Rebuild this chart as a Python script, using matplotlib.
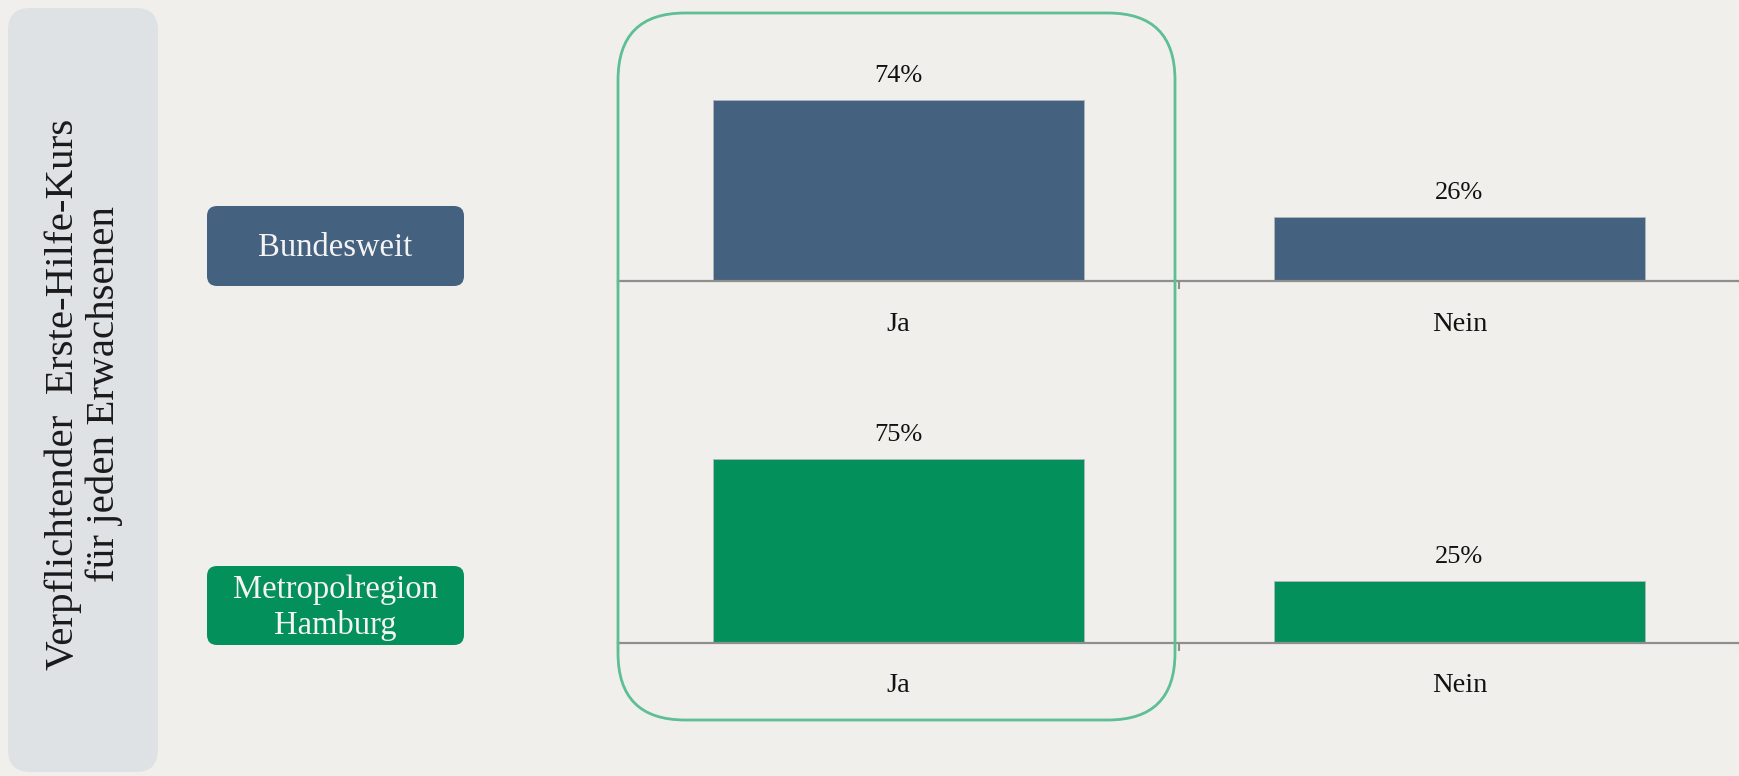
import matplotlib
matplotlib.use("Agg")
import matplotlib.pyplot as plt
from matplotlib.patches import FancyBboxPatch

# ---- data ----
categories = ["Ja", "Nein"]
bundesweit = [74, 26]
hamburg = [75, 25]
group_labels = ["Bundesweit", "Metropolregion\nHamburg"]
side_title = "Verpflichtender  Erste-Hilfe-Kurs\nfür jeden Erwachsenen"

# ---- style ----
BG = "#F0EFEB"
BLUE = "#44617F"
GREEN = "#03905A"
PANEL = "#DFE2E4"
OUTLINE = "#5DBF93"
AXIS = "#8E8E8E"
FONT = ["Liberation Serif", "DejaVu Serif"]

W, H = 1740, 776
fig = plt.figure(figsize=(W / 100, H / 100), dpi=100, facecolor=BG)


def px_box(x0, y0, x1, y1, r, **kw):
    """rounded box given in pixel coords (top-left origin) via inch transform"""
    p = FancyBboxPatch((x0 / 100, (H - y1) / 100), (x1 - x0) / 100, (y1 - y0) / 100,
                       boxstyle=f"round,pad=0,rounding_size={r / 100}",
                       transform=fig.dpi_scale_trans, **kw)
    fig.add_artist(p)
    return p


# left grey panel with rotated title
px_box(8, 8, 158, 772, 22, facecolor=PANEL, edgecolor="none", zorder=0)
fig.text(84 / W, 1 - 394 / H, side_title, rotation=90, ha="center", va="center",
         multialignment="center", fontsize=29.5, family=FONT, color="#1A1A1A",
         linespacing=1.12)

# group label boxes
label_boxes = [(207, 206, 464, 286, BLUE), (207, 566, 464, 645, GREEN)]
for (x0, y0, x1, y1, c), lab in zip(label_boxes, group_labels):
    px_box(x0, y0, x1, y1, 10, facecolor=c, edgecolor="none", zorder=1)
    fig.text((x0 + x1) / 2 / W, 1 - ((y0 + y1) / 2 + 2) / H, lab, ha="center", va="center",
             fontsize=23.5, family=FONT, color="#F4F4F4", linespacing=1.2)

# bar axes
ax_left = 618 / W
ax_w = 1122 / W
ax_h = 244.5 / H
axes_specs = [(1 - 281 / H, bundesweit, BLUE), (1 - 642.5 / H, hamburg, GREEN)]
xs = list(range(len(categories)))
for bottom, vals, col in axes_specs:
    ax = fig.add_axes([ax_left, bottom, ax_w, ax_h])
    ax.set_facecolor("none")
    ax.bar(xs, vals, width=0.663, color=col, edgecolor="#AEB6BE", linewidth=0.6, zorder=2)
    ax.set_xlim(-0.5, len(categories) - 0.5)
    ax.set_ylim(0, 100)
    for s in ("top", "left", "right"):
        ax.spines[s].set_visible(False)
    ax.spines["bottom"].set_color(AXIS)
    ax.spines["bottom"].set_linewidth(1.6)
    ax.spines["bottom"].set_zorder(3)
    ax.set_yticks([])
    ax.set_xticks([i - 0.5 for i in range(len(categories) + 1)])
    ax.set_xticklabels([])
    ax.tick_params(axis="x", length=6, width=1.5, color=AXIS, direction="out")
    for t in ax.xaxis.get_major_ticks():
        t.tick1line.set_clip_on(False)
    for i, v in enumerate(vals):
        ax.annotate(f"{v}%", (i, v), xytext=(0, 17.5), textcoords="offset points",
                    ha="center", va="center", fontsize=19, family=FONT, color="#111111")
        ax.annotate(categories[i], (i, 0), xycoords=("data", "axes fraction"),
                    xytext=(0, -31), textcoords="offset points", ha="center", va="center",
                    fontsize=20.5, family=FONT, color="#111111")

# highlight outline around the "Ja" column
px_box(618, 13, 1175, 720, 67, facecolor="none", edgecolor=OUTLINE, linewidth=2.0, zorder=5)

fig.savefig("out.png", dpi=100, facecolor=BG)
